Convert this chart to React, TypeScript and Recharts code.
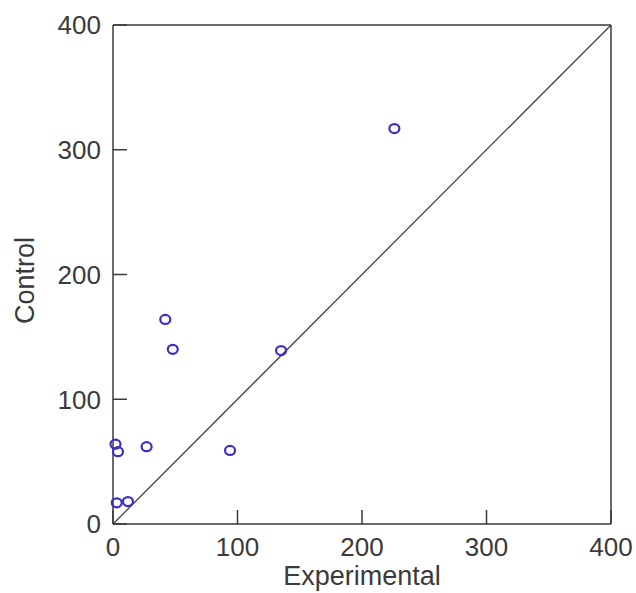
import { ScatterChart, Scatter, XAxis, YAxis, ReferenceLine, Label } from "recharts";

// values
const experimental = [226, 42, 48, 135, 94, 27, 2, 4, 3, 12];
const control = [317, 164, 140, 139, 59, 62, 64, 58, 17, 18];
const ticks = [0, 100, 200, 300, 400];
const domain: [number, number] = [0, 400];

const points = experimental.map((x, i) => ({ x, y: control[i] }));

const INK = "#3a3a3a";
const FONT = "'Liberation Sans', Arial, sans-serif";
const TICK = 14;

// Ticks point into the plot (MATLAB-style box), so they are drawn here rather than by tickLine.
function BottomTick({ x, y, payload }: any) {
  return (
    <g>
      <line x1={x} y1={y} x2={x} y2={y - TICK} stroke={INK} strokeWidth={1.5} />
      <text x={x} y={y + 32} textAnchor="middle" fontSize={26} fill={INK} fontFamily={FONT}>
        {payload.value}
      </text>
    </g>
  );
}

function LeftTick({ x, y, payload }: any) {
  return (
    <g>
      <line x1={x} y1={y} x2={x + TICK} y2={y} stroke={INK} strokeWidth={1.5} />
      <text x={x - 12} y={y} dy="0.36em" textAnchor="end" fontSize={26} fill={INK} fontFamily={FONT}>
        {payload.value}
      </text>
    </g>
  );
}

function TopTick({ x, y }: any) {
  return <line x1={x} y1={y} x2={x} y2={y + TICK} stroke={INK} strokeWidth={1.5} />;
}

function RightTick({ x, y }: any) {
  return <line x1={x} y1={y} x2={x - TICK} y2={y} stroke={INK} strokeWidth={1.5} />;
}

function Ring({ cx, cy }: any) {
  return <ellipse cx={cx} cy={cy} rx={5} ry={4.5} fill="none" stroke="#3b2fc4" strokeWidth={2.2} />;
}

export default function App() {
  const axisLine = { stroke: INK, strokeWidth: 1.5 };
  return (
    <div style={{ position: "fixed", left: 0, top: 0, background: "#fff", width: 636, height: 593 }}>
      <ScatterChart width={636} height={593} margin={{ top: 24, right: 24, bottom: 0, left: 0 }}>
        <XAxis
          type="number"
          dataKey="x"
          domain={domain}
          ticks={ticks}
          height={69}
          axisLine={axisLine}
          tickLine={false}
          tickSize={0}
          tickMargin={0}
          tick={<BottomTick />}
        >
          <Label
            value="Experimental"
            position="insideBottom"
            offset={8}
            fontSize={27}
            fill={INK}
            fontFamily={FONT}
          />
        </XAxis>
        {/* top and right axes only close the box; 1px size because zero-size axes are not drawn */}
        <XAxis
          xAxisId="top"
          orientation="top"
          type="number"
          domain={domain}
          ticks={ticks}
          height={1}
          axisLine={axisLine}
          tickLine={false}
          tickSize={0}
          tickMargin={0}
          tick={<TopTick />}
        />
        <YAxis
          type="number"
          dataKey="y"
          domain={domain}
          ticks={ticks}
          width={113}
          axisLine={axisLine}
          tickLine={false}
          tickSize={0}
          tickMargin={0}
          tick={<LeftTick />}
        >
          <Label
            content={({ viewBox }: any) => {
              const cy = viewBox.y + viewBox.height / 2 + 6;
              return (
                <text
                  x={34}
                  y={cy}
                  transform={`rotate(-90 34 ${cy})`}
                  textAnchor="middle"
                  fontSize={27}
                  fill={INK}
                  fontFamily={FONT}
                >
                  Control
                </text>
              );
            }}
          />
        </YAxis>
        <YAxis
          yAxisId="right"
          orientation="right"
          type="number"
          domain={domain}
          ticks={ticks}
          width={1}
          axisLine={axisLine}
          tickLine={false}
          tickSize={0}
          tickMargin={0}
          tick={<RightTick />}
        />
        <ReferenceLine
          segment={[
            { x: 0, y: 0 },
            { x: 400, y: 400 },
          ]}
          stroke="#444"
          strokeWidth={1.3}
          ifOverflow="visible"
        />
        <Scatter data={points} shape={<Ring />} isAnimationActive={false} />
      </ScatterChart>
    </div>
  );
}
